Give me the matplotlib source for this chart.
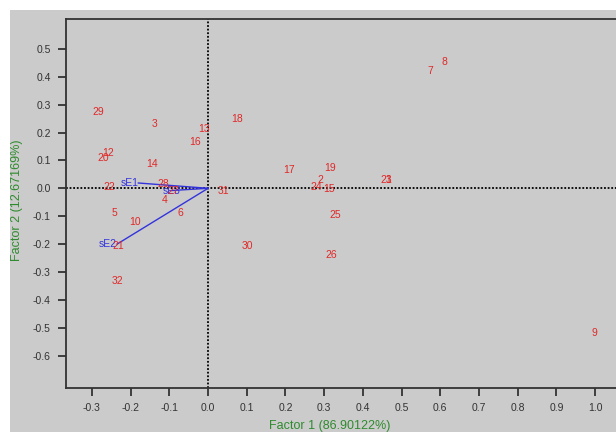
import matplotlib
matplotlib.use("Agg")
import matplotlib.pyplot as plt
from matplotlib.patches import Rectangle

plt.rcParams['font.family'] = ['Liberation Sans', 'DejaVu Sans']

# sample scores (label, factor 1, factor 2)
labels = ['29', '3', '13', '18', '16', '12', '20', '14', '22', '28', '27', '4',
          '31', '5', '10', '6', '21', '30', '32', '17', '19', '2', '24', '15',
          '23', '1', '25', '26', '7', '8', '9']
f1 = [-0.284, -0.137, -0.010, 0.075, -0.034, -0.258, -0.271, -0.145, -0.256,
      -0.116, -0.090, -0.111, 0.039, -0.243, -0.189, -0.072, -0.232, 0.101,
      -0.233, 0.209, 0.315, 0.289, 0.279, 0.313, 0.460, 0.466, 0.328, 0.318,
      0.574, 0.610, 0.997]
f2 = [0.273, 0.230, 0.212, 0.248, 0.166, 0.127, 0.108, 0.087, 0.005, 0.015,
      -0.010, -0.042, -0.010, -0.089, -0.121, -0.089, -0.207, -0.207, -0.332,
      0.066, 0.073, 0.030, 0.005, -0.002, 0.030, 0.030, -0.096, -0.239, 0.420,
      0.452, -0.519]

# variable loadings
var_names = ['sE1', 'sE2', 'sE3']
var_x = [-0.180, -0.235, -0.095]
var_y = [0.019, -0.200, -0.008]
var_ha = ['right', 'right', 'center']

fig = plt.figure(figsize=(6.16, 4.32), dpi=100)
fig.patch.set_facecolor('white')
fig.patches.append(Rectangle((10/616, 0), 1, 422/432, transform=fig.transFigure,
                             facecolor='#cbcbcb', edgecolor='none', zorder=-1))

ax = fig.add_axes([66/616, 44/432, 574/616, 369/432])
ax.set_facecolor('#cbcbcb')
ax.set_xlim(-0.367, 1.116)
ax.set_ylim(-0.716, 0.607)

ax.axhline(0, color='black', ls=(0, (1, 1)), lw=1.3, zorder=1)
ax.axvline(0, color='black', ls=(0, (1, 1)), lw=1.3, zorder=1)

for n, x, y, ha in zip(var_names, var_x, var_y, var_ha):
    ax.plot([0, x], [0, y], color='#3333dd', lw=1, zorder=2)
    ax.text(x, y, n, color='#3333dd', fontsize=7.5, ha=ha, va='center', zorder=3)

for t, x, y in zip(labels, f1, f2):
    ax.text(x, y, t, color='#e02828', fontsize=7.5, ha='center', va='center', zorder=4)

ax.set_xticks([-0.3, -0.2, -0.1, 0.0, 0.1, 0.2, 0.3, 0.4, 0.5, 0.6, 0.7, 0.8, 0.9, 1.0])
ax.set_yticks([-0.6, -0.5, -0.4, -0.3, -0.2, -0.1, 0.0, 0.1, 0.2, 0.3, 0.4, 0.5])
ax.xaxis.set_major_formatter(plt.FuncFormatter(lambda v, p: f'{v:.1f}'))
ax.yaxis.set_major_formatter(plt.FuncFormatter(lambda v, p: f'{v:.1f}'))
ax.tick_params(direction='out', length=6, width=1.3, colors='#333333',
               labelsize=7.5, pad=5)
for s in ax.spines.values():
    s.set_color('#333333')
    s.set_linewidth(1.3)

fig.text(330/616, 1 - 426/432, 'Factor 1 (86.90122%)', color='#2e8b2e',
         fontsize=9, ha='center', va='center')
fig.text(17/616, 1 - 200/432, 'Factor 2 (12.67169%)', color='#2e8b2e',
         fontsize=9, ha='center', va='center', rotation=90)

fig.savefig('out.png', dpi=100)
